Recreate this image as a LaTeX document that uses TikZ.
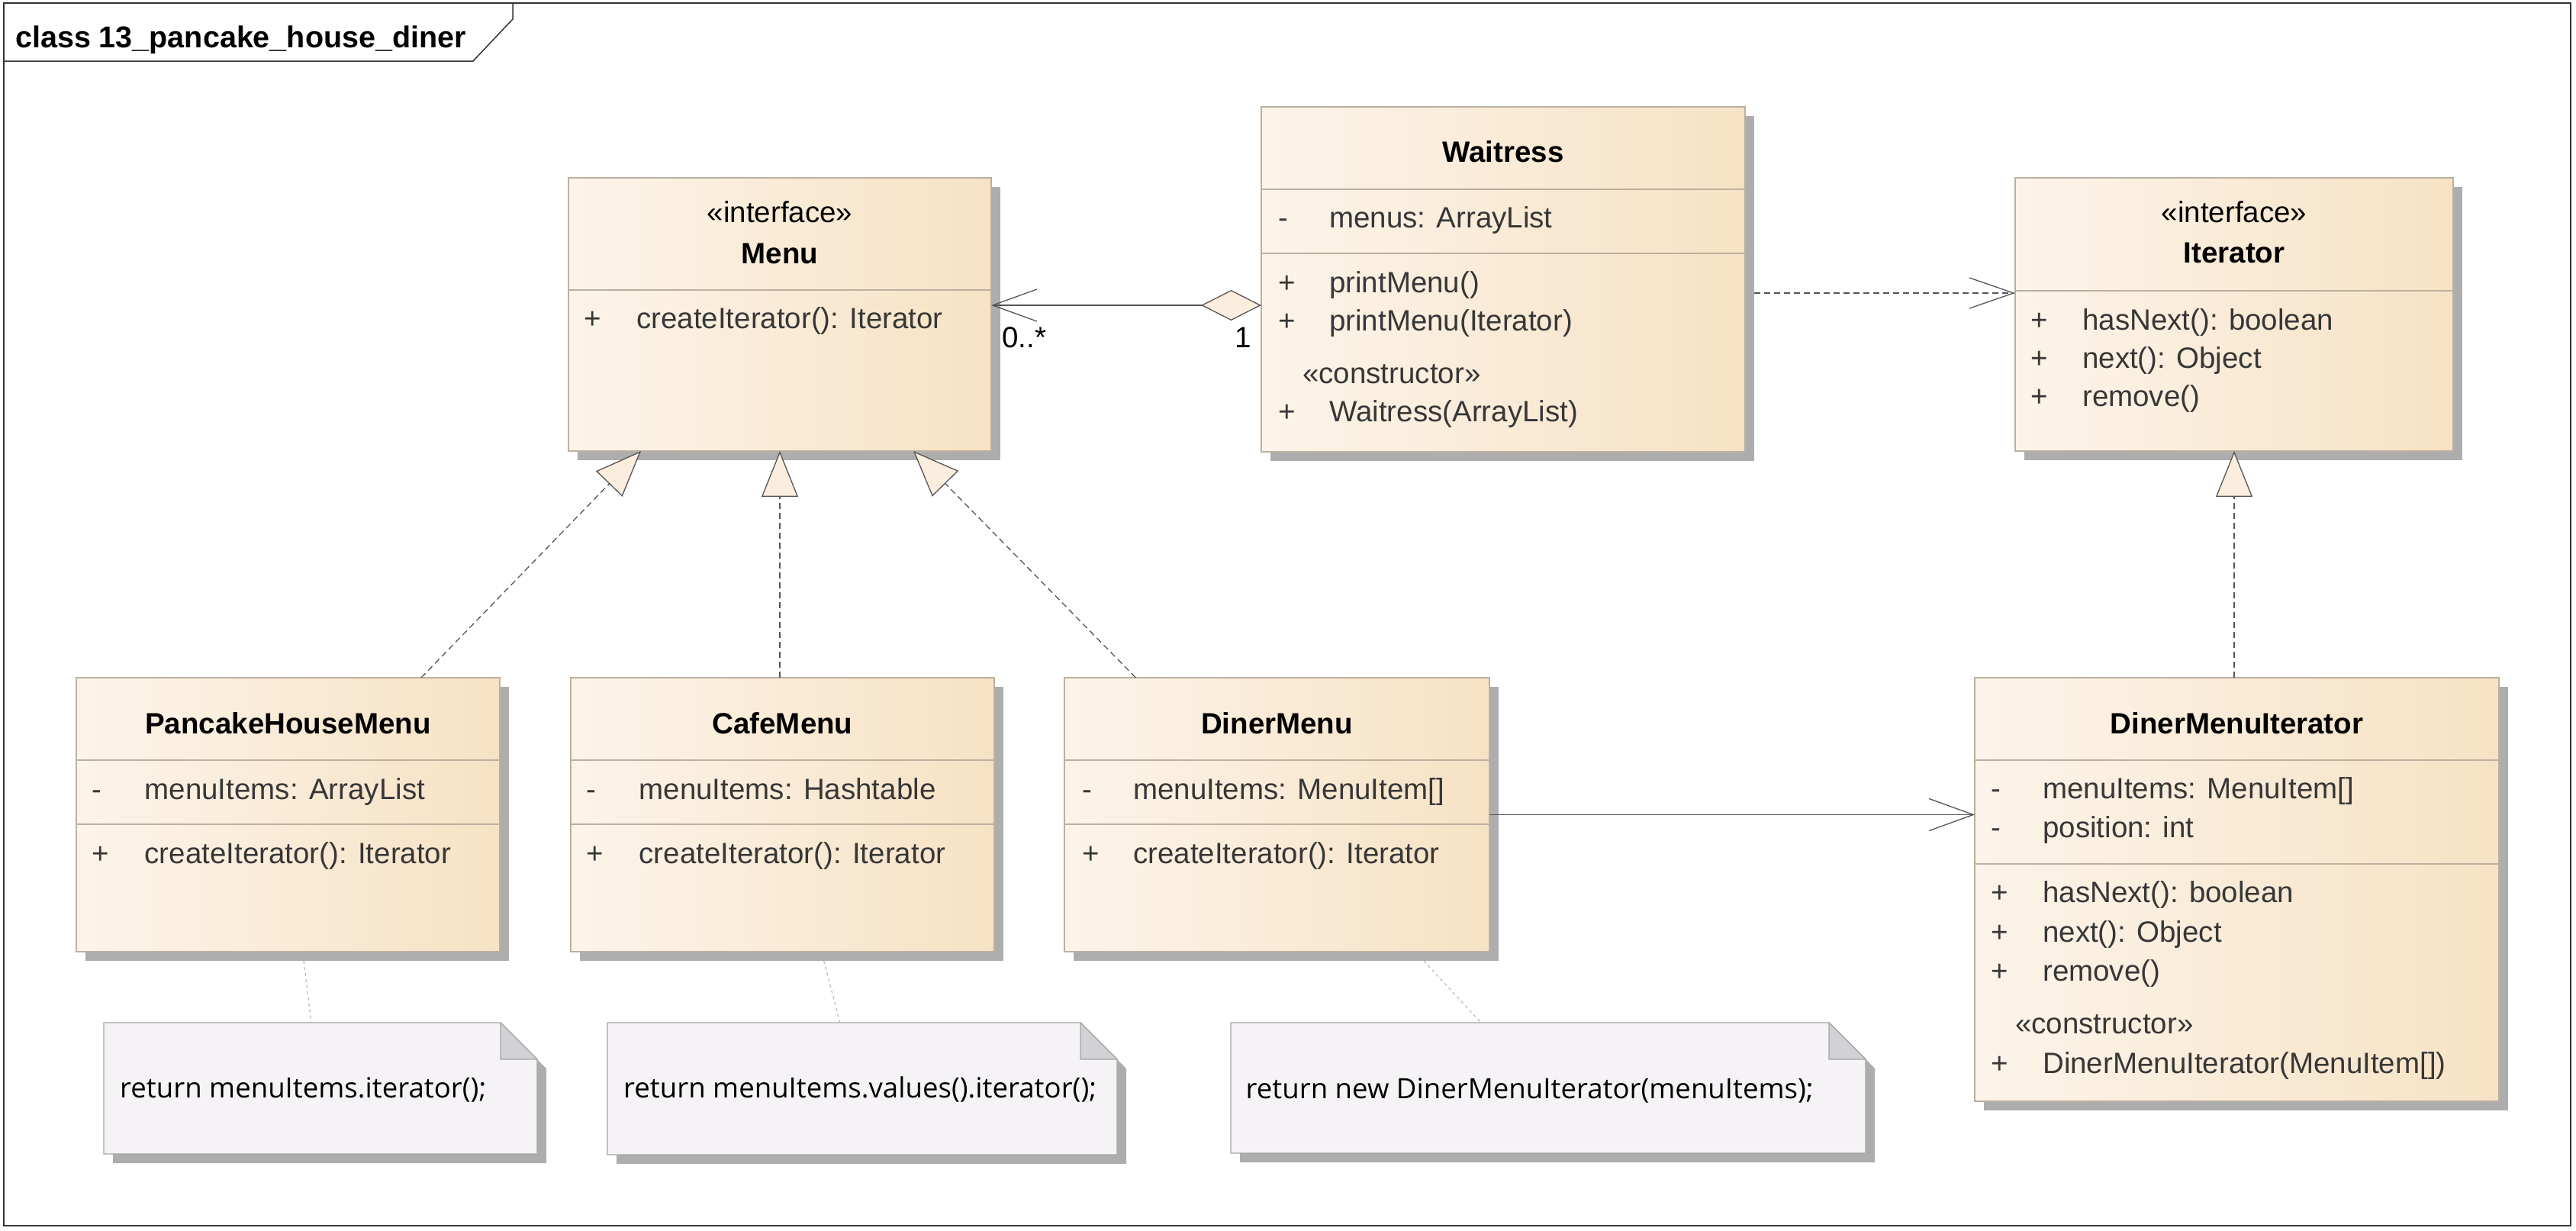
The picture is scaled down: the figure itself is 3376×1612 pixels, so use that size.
\documentclass[tikz,border=0pt]{standalone}
\usepackage{fontspec}
\setmainfont{Liberation Sans}
\newfontfamily\notefont{Open Sans}
\usetikzlibrary{arrows.meta,calc}

\definecolor{classborder}{RGB}{188,176,160}
\definecolor{classleft}{RGB}{252,244,234}
\definecolor{classright}{RGB}{247,226,196}
\definecolor{shadowgray}{RGB}{173,173,173}
\definecolor{membergray}{RGB}{55,55,55}
\definecolor{linegray}{RGB}{85,85,85}
\definecolor{notefill}{RGB}{245,243,246}
\definecolor{noteborder}{RGB}{165,165,165}
\definecolor{notefold}{RGB}{210,209,213}
\definecolor{notelink}{RGB}{185,185,185}
\definecolor{tipcream}{RGB}{251,238,222}

\newcommand\umlfont{\fontsize{38.5}{46}\selectfont}

\tikzset{
  classbox/.style={rectangle, draw=classborder, line width=1.2pt, left color=classleft, right color=classright, inner sep=0pt, outer sep=0pt},
  compline/.style={draw=classborder, line width=1.2pt},
  member/.style={anchor=base west, inner sep=0pt, font=\umlfont, text=membergray},
  stereo/.style={anchor=base, inner sep=0pt, font=\umlfont},
  classname/.style={anchor=base, inner sep=0pt, font=\umlfont\bfseries},
  notetext/.style={anchor=base west, inner sep=0pt, font=\notefont\fontsize{36.6}{44}\selectfont},
  realize/.style={draw=linegray, line width=1.3pt, dash pattern=on 8pt off 5pt, -{Triangle[length=60pt,width=48pt,fill=tipcream]}},
  depend/.style={draw=linegray, line width=1.3pt, dash pattern=on 8pt off 5pt, -{Straight Barb[length=58pt,width=40pt]}},
  assoc/.style={draw=linegray, line width=1.3pt, -{Straight Barb[length=58pt,width=42pt]}},
  notelinkpen/.style={draw=notelink, line width=1.2pt, dash pattern=on 4pt off 4pt}
}

% class box with shadow: name, x1, y1, x2, y2
\newcommand\umlbox[5]{%
  \fill[shadowgray] (#2+12,#3+12) rectangle (#4+12,#5+12);
  \node[classbox, anchor=north west, minimum width=#4-#2, minimum height=#5-#3] (#1) at (#2,#3) {};
}
% note with folded corner: name, x1, y1, x2, y2
\newcommand\umlnote[5]{%
  \fill[shadowgray] (#2+12,#3+12) -- (#4-36,#3+12) -- (#4+12,#3+60) -- (#4+12,#5+12) -- (#2+12,#5+12) -- cycle;
  \node[inner sep=0pt, outer sep=0pt, anchor=north west, minimum width=#4-#2, minimum height=#5-#3] (#1) at (#2,#3) {};
  \filldraw[fill=notefill, draw=noteborder, line width=1.2pt] (#2,#3) -- (#4-48,#3) -- (#4,#3+48) -- (#4,#5) -- (#2,#5) -- cycle;
  \filldraw[fill=notefold, draw=noteborder, line width=1.2pt] (#4-48,#3) -- (#4-48,#3+48) -- (#4,#3+48) -- cycle;
}

\begin{document}
\begin{tikzpicture}[x=1pt,y=1pt,yscale=-1,xscale=1]
\useasboundingbox (0,0) rectangle (3376,1612);

%Shape: Frame
\draw [color=black!80, line width=1.5pt] (5,4) rectangle (3369,1606);
\draw [color=black!80, line width=1.5pt] (5,80) -- (620,80) -- (672,25) -- (672,4);
% Text Node
\node [anchor=base west, inner sep=0pt, font=\fontsize{39.5}{46}\selectfont\bfseries] (frame-title) at (20,62) {class 13\_pancake\_house\_diner};

%Shape: Class Boxes
\umlbox{menu}{745}{233}{1299}{591}
\umlbox{waitress}{1653}{140}{2287}{592}
\umlbox{iterator}{2641}{233}{3215}{591}
\umlbox{pancake}{100}{888}{655}{1247}
\umlbox{cafe}{748}{888}{1303}{1247}
\umlbox{diner}{1395}{888}{1952}{1247}
\umlbox{dmi}{2588}{888}{3275}{1443}

%Shape: Compartment lines
\draw [compline] (745,380) -- (1299,380);
\draw [compline] (1653,248) -- (2287,248);
\draw [compline] (1653,332) -- (2287,332);
\draw [compline] (2641,381) -- (3215,381);
\draw [compline] (100,996) -- (655,996);
\draw [compline] (100,1080) -- (655,1080);
\draw [compline] (748,996) -- (1303,996);
\draw [compline] (748,1080) -- (1303,1080);
\draw [compline] (1395,996) -- (1952,996);
\draw [compline] (1395,1080) -- (1952,1080);
\draw [compline] (2588,996) -- (3275,996);
\draw [compline] (2588,1132) -- (3275,1132);

%Shape: Notes
\umlnote{pnote}{136}{1340}{704}{1512}
\umlnote{cnote}{796}{1340}{1464}{1513}
\umlnote{dnote}{1613}{1340}{2445}{1511}

% Text Node: Menu
\node [stereo] (menu-stereo) at (1022,291) {«interface»};
\node [classname] (menu-name) at (1022,345) {Menu};
\node [member] (menu-vis1) at (765,430) {+};
\node [member] (menu-op1) at (834,430) {createIterator(): Iterator};

% Text Node: Waitress
\node [classname] (waitress-name) at (1970,212) {Waitress};
\node [member] (waitress-vis1) at (1675,298) {-};
\node [member] (waitress-attr1) at (1742,298) {menus: ArrayList};
\node [member] (waitress-vis2) at (1675,383) {+};
\node [member] (waitress-op1) at (1742,383) {printMenu()};
\node [member] (waitress-vis3) at (1675,433) {+};
\node [member] (waitress-op2) at (1742,433) {printMenu(Iterator)};
\node [member] (waitress-ctor) at (1707,502) {«constructor»};
\node [member] (waitress-vis4) at (1675,552) {+};
\node [member] (waitress-op3) at (1742,552) {Waitress(ArrayList)};

% Text Node: Iterator
\node [stereo] (iterator-stereo) at (2928,291) {«interface»};
\node [classname] (iterator-name) at (2928,344) {Iterator};
\foreach \y/\op [count=\i] in {432/hasNext(): boolean, 482/next(): Object, 532/remove()} {
  \node [member] (iterator-vis\i) at (2661,\y) {+};
  \node [member] (iterator-op\i) at (2729,\y) {\op};
}

% Text Node: PancakeHouseMenu
\node [classname] (pancake-name) at (377.5,961) {PancakeHouseMenu};
\node [member] (pancake-vis1) at (120,1047) {-};
\node [member] (pancake-attr1) at (189.5,1047) {menuItems: ArrayList};
\node [member] (pancake-vis2) at (120,1131) {+};
\node [member] (pancake-op1) at (189.5,1131) {createIterator(): Iterator};

% Text Node: CafeMenu
\node [classname] (cafe-name) at (1025.5,961) {CafeMenu};
\node [member] (cafe-vis1) at (768,1047) {-};
\node [member] (cafe-attr1) at (837.5,1047) {menuItems: Hashtable};
\node [member] (cafe-vis2) at (768,1131) {+};
\node [member] (cafe-op1) at (837.5,1131) {createIterator(): Iterator};

% Text Node: DinerMenu
\node [classname] (diner-name) at (1673.5,961) {DinerMenu};
\node [member] (diner-vis1) at (1418.5,1047) {-};
\node [member] (diner-attr1) at (1485,1047) {menuItems: MenuItem[]};
\node [member] (diner-vis2) at (1418.5,1131) {+};
\node [member] (diner-op1) at (1485,1131) {createIterator(): Iterator};

% Text Node: DinerMenuIterator
\node [classname] (dmi-name) at (2931.5,961) {DinerMenuIterator};
\node [member] (dmi-vis1) at (2609.5,1046) {-};
\node [member] (dmi-attr1) at (2677,1046) {menuItems: MenuItem[]};
\node [member] (dmi-vis2) at (2609.5,1097) {-};
\node [member] (dmi-attr2) at (2677,1097) {position: int};
\foreach \y/\op [count=\i] in {1182/hasNext(): boolean, 1234/next(): Object, 1285/remove()} {
  \node [member] (dmi-opvis\i) at (2609.5,\y) {+};
  \node [member] (dmi-op\i) at (2677,\y) {\op};
}
\node [member] (dmi-ctor) at (2641,1354) {«constructor»};
\node [member] (dmi-vis6) at (2609.5,1406) {+};
\node [member] (dmi-op4) at (2677,1406) {DinerMenuIterator(MenuItem[])};

% Text Node: notes
\node [notetext] (pnote-text) at (157,1438) {return menuItems.iterator();};
\node [notetext] (cnote-text) at (817,1438) {return menuItems.values().iterator();};
\node [notetext] (dnote-text) at (1632.5,1439) {return new DinerMenuIterator(menuItems);};

% Connectors
\draw [realize] ($(pancake.north)+(174.5,0)$) -- ($(menu.south)+(-182,0)$);
\draw [realize] (menu.south |- cafe.north) -- (menu.south);
\draw [realize] ($(diner.north)+(-185,0)$) -- ($(menu.south)+(175,0)$);
\draw [realize] (iterator.south |- dmi.north) -- (iterator.south);
\draw [depend] ($(waitress.east)+(12,18)$) -- ($(iterator.west)+(0,-28)$);
\draw [assoc, {Diamond[length=79pt,width=40pt,fill=tipcream]}-{Straight Barb[length=58pt,width=42pt]}] ($(waitress.west)+(0,34)$) -- ($(menu.east)+(0,-12)$);
\draw [assoc] (diner.east) -- (diner.east -| dmi.west);
\draw [notelinkpen] ($(pancake.south)+(20.6,12)$) -- ($(pnote.north)+(-12,0)$);
\draw [notelinkpen] ($(cafe.south)+(54.2,12)$) -- ($(cnote.north)+(-29.2,0)$);
\draw [notelinkpen] ($(diner.south)+(192.4,12)$) -- ($(dnote.north)+(-88,0)$);

% Text Node: multiplicities
\node [anchor=base west, inner sep=0pt, font=\umlfont] (mult-menu) at (1313,455) {0..*};
\node [anchor=base west, inner sep=0pt, font=\umlfont] (mult-waitress) at (1618,455) {1};

\end{tikzpicture}
\end{document}
